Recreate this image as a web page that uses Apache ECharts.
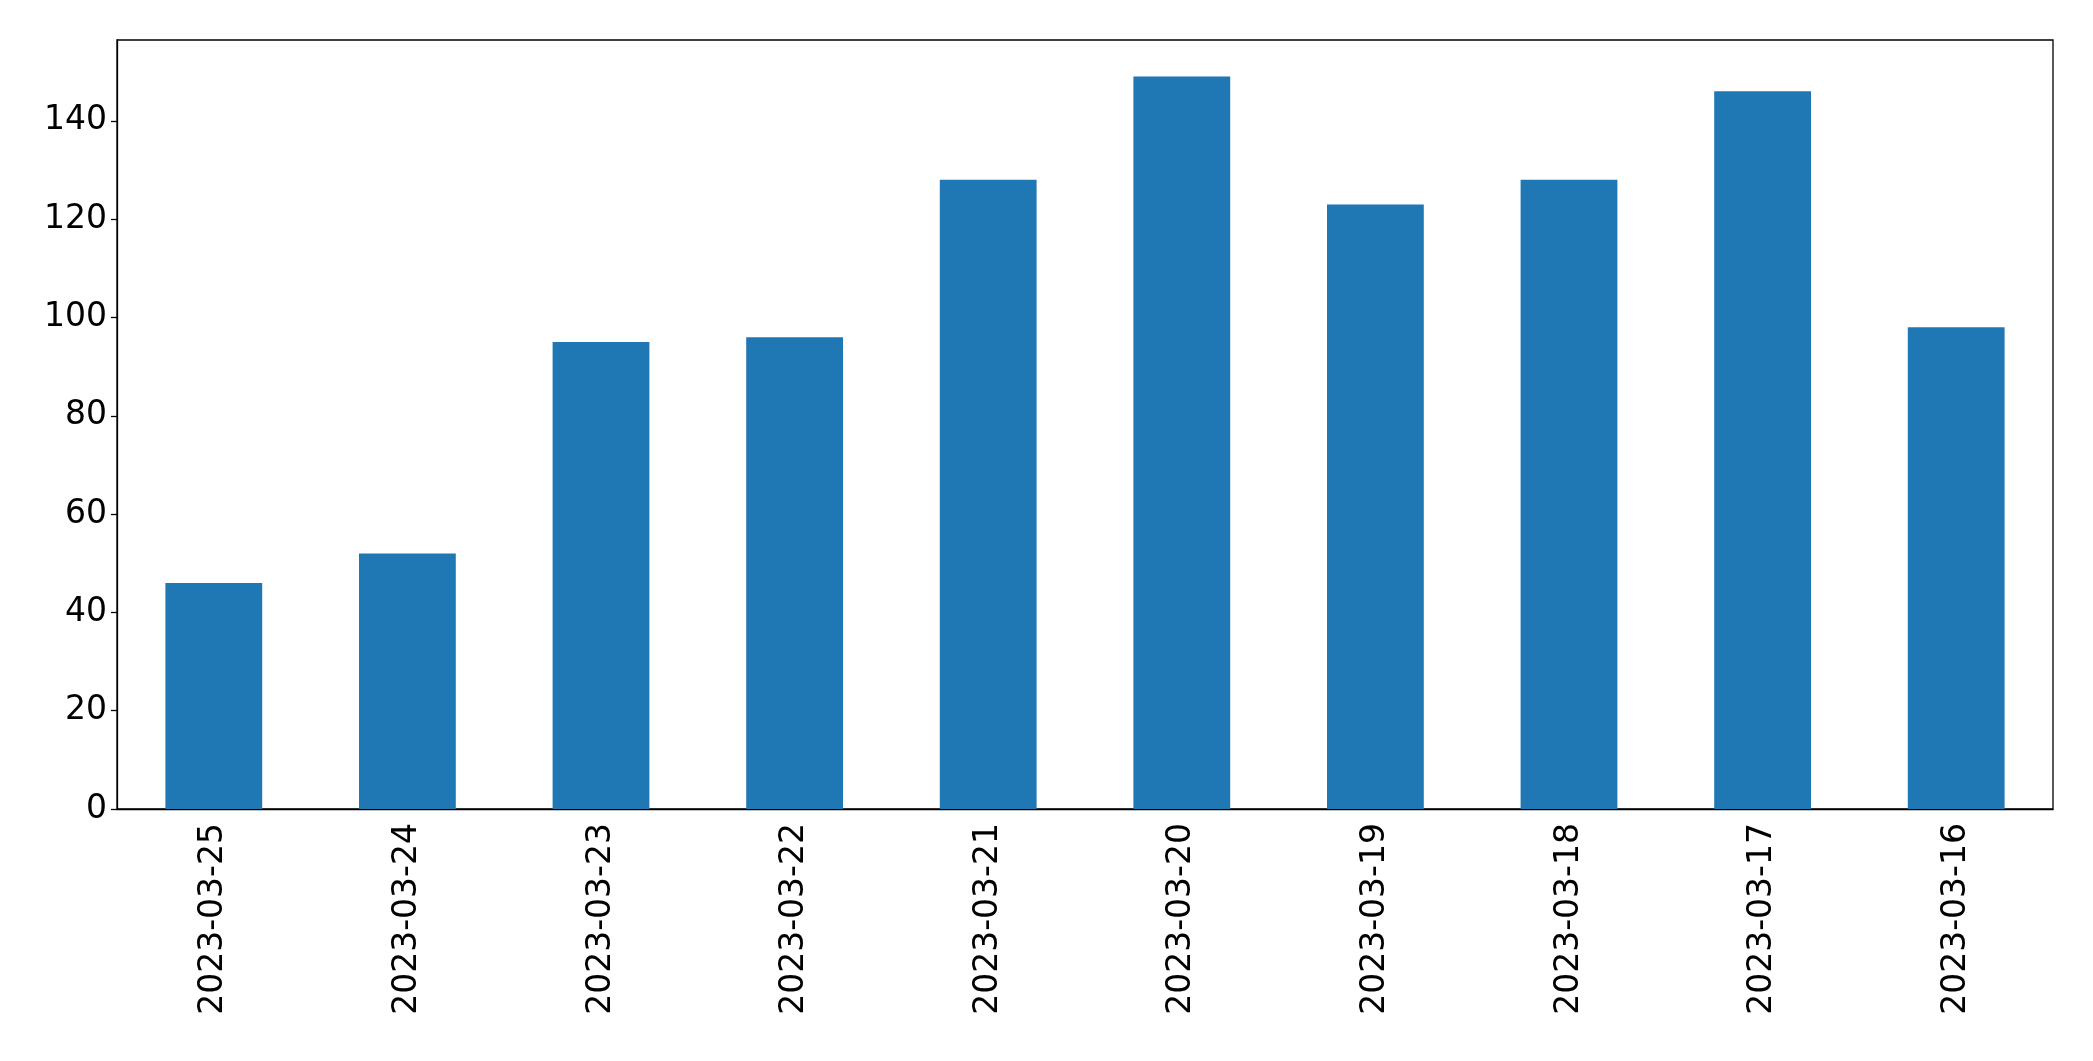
<!DOCTYPE html>
<html><head><meta charset="utf-8">
<script src="https://cdn.jsdelivr.net/npm/echarts@6/dist/echarts.min.js"></script>
<style>html,body{margin:0;background:#fff}#c{width:2093px;height:1061px}</style>
</head><body><div id="c"></div>
<script>
const dates = ['2023-03-25','2023-03-24','2023-03-23','2023-03-22','2023-03-21','2023-03-20','2023-03-19','2023-03-18','2023-03-17','2023-03-16']
const counts = [46, 52, 95, 96, 128, 149, 123, 128, 146, 98]
const yTicks = [0, 20, 40, 60, 80, 100, 120, 140]

let chart = echarts.init(document.getElementById('c'))
const font = 'DejaVu Sans'
chart.setOption({
  animation: false,
  grid: {left: 117, right: 40, top: 40, bottom: 252, show: true, borderColor: '#000', borderWidth: 1.3},
  xAxis: {
    type: 'category', data: dates,
    axisLine: {lineStyle: {color: '#000', width: 1.3}},
    axisTick: {alignWithLabel: true, length: 6, lineStyle: {color: '#000', width: 1.3}},
    axisLabel: {rotate: 90, color: '#000', fontSize: 33, fontFamily: font, margin: 14}
  },
  yAxis: {
    type: 'value', min: 0, max: 156.45, interval: 20,
    splitLine: {show: false},
    axisLine: {show: true, lineStyle: {color: '#000', width: 1.3}},
    axisTick: {show: true, length: 6, lineStyle: {color: '#000', width: 1.3}},
    axisLabel: {color: '#000', fontSize: 33, fontFamily: font, margin: 10,
      formatter: v => yTicks.includes(v) ? String(v) : '', showMaxLabel: false}
  },
  series: [{type: 'bar', data: counts, barCategoryGap: '50%', itemStyle: {color: '#1f77b4'}}]
})
</script></body></html>
